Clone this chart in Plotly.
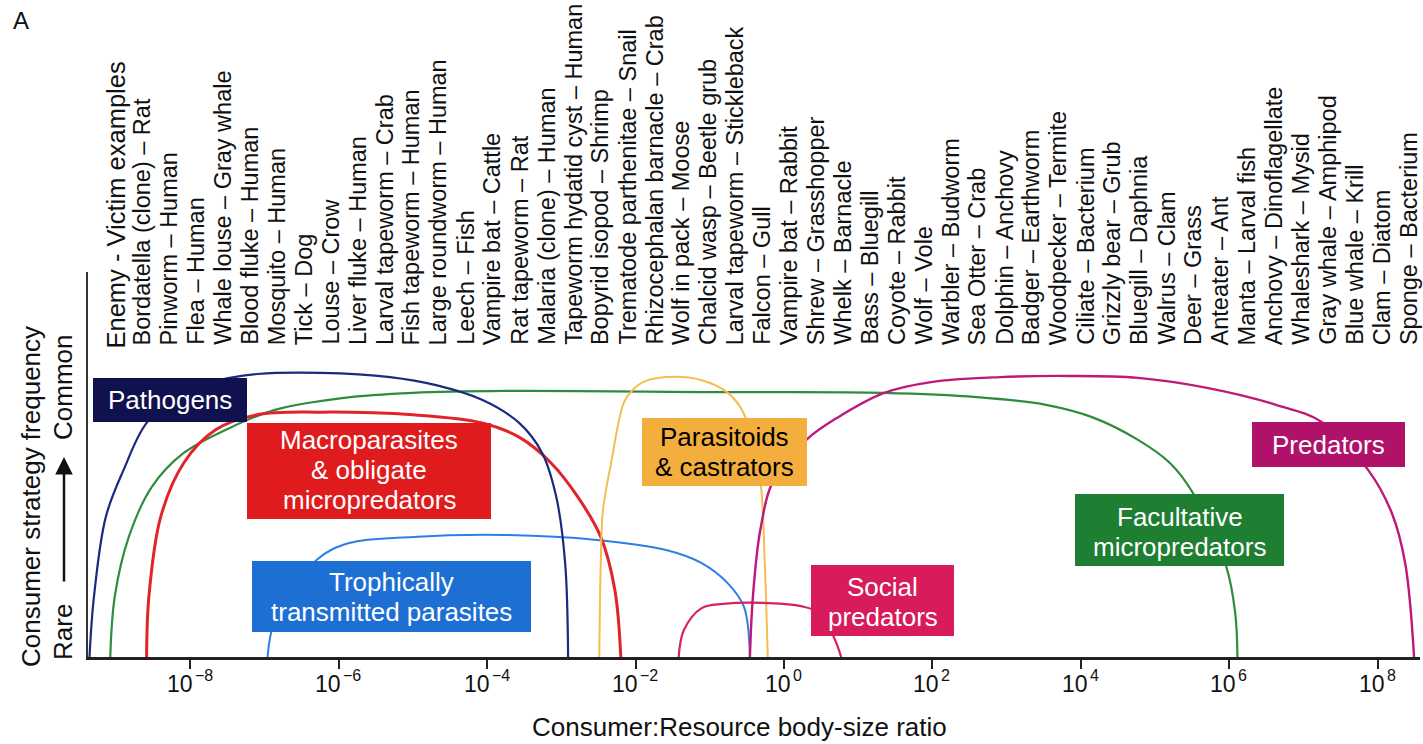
import plotly.graph_objects as go

# ---------------- data ----------------
enemy_victim_header = "Enemy - Victim examples"
enemy_victim_labels = [
    "Bordatella (clone) – Rat", "Pinworm – Human", "Flea – Human",
    "Whale louse – Gray whale", "Blood fluke – Human", "Mosquito – Human",
    "Tick – Dog", "Louse – Crow", "Liver fluke – Human",
    "Larval tapeworm – Crab", "Fish tapeworm – Human", "Large roundworm – Human",
    "Leech – Fish", "Vampire bat – Cattle", "Rat tapeworm – Rat",
    "Malaria (clone) – Human", "Tapeworm hydatid cyst – Human",
    "Bopyrid isopod – Shrimp", "Trematode parthenitae – Snail",
    "Rhizocephalan barnacle – Crab", "Wolf in pack – Moose",
    "Chalcid wasp – Beetle grub", "Larval tapeworm – Stickleback",
    "Falcon – Gull", "Vampire bat – Rabbit", "Shrew – Grasshopper",
    "Whelk – Barnacle", "Bass – Bluegill", "Coyote – Rabbit", "Wolf – Vole",
    "Warbler – Budworm", "Sea Otter – Crab", "Dolphin – Anchovy",
    "Badger – Earthworm", "Woodpecker – Termite", "Ciliate – Bacterium",
    "Grizzly bear – Grub", "Bluegill – Daphnia", "Walrus – Clam",
    "Deer – Grass", "Anteater – Ant", "Manta – Larval fish",
    "Anchovy – Dinoflagellate", "Whaleshark – Mysid", "Gray whale – Amphipod",
    "Blue whale – Krill", "Clam – Diatom", "Sponge – Bacterium",
]

# x ticks: powers of ten (base "10" + exponent label)
tick_exponents = [-8, -6, -4, -2, 0, 2, 4, 6, 8]
tick_base_label = "10"
tick_exponent_labels = ["−8", "−6", "−4", "−2", "0", "2", "4", "6", "8"]

# curves: log10(consumer:resource ratio) and relative frequency (0 = rare)
pathogens_log = [-9.36, -9.30, -9.14, -8.90, -8.59, -8.09, -7.47, -7.10, -6.24,
                 -5.31, -4.69, -4.07, -3.57, -3.26, -3.07, -2.95, -2.91]
pathogens_freq = [0.0, 0.156, 0.364, 0.486, 0.608, 0.694, 0.725, 0.735, 0.738,
                  0.727, 0.706, 0.668, 0.608, 0.530, 0.416, 0.244, 0.0]

facultative_log = [-9.08, -9.02, -8.83, -8.52, -8.09, -7.47, -6.86, -5.93, -5.00,
                   -3.76, -0.86, 1.35, 2.60, 3.53, 4.15, 4.77, 5.20, 5.51, 5.96,
                   6.08, 6.11]
facultative_freq = [0.0, 0.156, 0.312, 0.442, 0.530, 0.595, 0.642, 0.673, 0.686,
                    0.691, 0.688, 0.686, 0.675, 0.655, 0.623, 0.564, 0.504, 0.426,
                    0.234, 0.114, 0.0]

macro_log = [-8.59, -8.56, -8.40, -8.09, -7.66, -7.10, -6.24, -5.00, -4.07, -3.57,
             -3.14, -2.78, -2.47, -2.28, -2.20]
macro_freq = [0.0, 0.156, 0.364, 0.504, 0.590, 0.629, 0.636, 0.629, 0.608, 0.571,
              0.504, 0.416, 0.312, 0.174, 0.0]

trophic_log = [-6.96, -6.86, -6.30, -5.86, -5.00, -3.76, -2.52, -1.59, -1.11,
               -0.76, -0.54, -0.46]
trophic_freq = [0.0, 0.096, 0.252, 0.296, 0.312, 0.317, 0.304, 0.278, 0.244,
                0.192, 0.130, 0.0]

parasitoid_log = [-2.49, -2.47, -2.44, -2.33, -2.16, -2.04, -1.90, -1.59, -1.11,
                  -0.77, -0.59, -0.46, -0.32, -0.26, -0.22]
parasitoid_freq = [0.0, 0.244, 0.382, 0.504, 0.660, 0.694, 0.714, 0.727, 0.719,
                   0.688, 0.649, 0.590, 0.460, 0.244, 0.0]

social_log = [-1.42, -1.35, -1.11, -0.82, -0.20, 0.23, 0.48, 0.67, 0.77]
social_freq = [0.0, 0.070, 0.127, 0.138, 0.140, 0.132, 0.114, 0.052, 0.0]

predator_log = [-0.46, -0.42, -0.32, -0.14, 0.30, 0.73, 1.35, 1.98, 2.91, 3.84,
                4.77, 5.70, 6.63, 7.25, 7.87, 8.19, 8.37, 8.49]
predator_freq = [0.0, 0.156, 0.330, 0.460, 0.564, 0.623, 0.686, 0.714, 0.727,
                 0.730, 0.725, 0.699, 0.655, 0.610, 0.486, 0.374, 0.244, 0.0]

# ---------------- geometry / style ----------------
W, H = 1423, 744
ML, MR, MT, MB = 88, 3, 272, 87
PW = W - ML - MR
PH = H - MT - MB


def px(x):
    return (x - ML) / PW


def py(y):
    return (H - MB - y) / PH


FONT = "Liberation Sans, Arial, Helvetica, sans-serif"

fig = go.Figure()

curves = [
    (facultative_log, facultative_freq, "#2e8c3d", 2.2),
    (trophic_log, trophic_freq, "#2d7fe3", 2.0),
    (macro_log, macro_freq, "#e3232a", 3.0),
    (pathogens_log, pathogens_freq, "#1b2a7e", 2.2),
    (parasitoid_log, parasitoid_freq, "#f5bd4f", 2.0),
    (social_log, social_freq, "#d42460", 2.2),
    (predator_log, predator_freq, "#c0187a", 2.4),
]
for lg, fr, col, wd in curves:
    fig.add_trace(go.Scatter(
        x=[10 ** v for v in lg], y=fr, mode="lines",
        line=dict(color=col, width=wd, shape="spline", smoothing=1.0),
        hoverinfo="skip", showlegend=False))

shapes = []
annotations = []


def box(x0, y0, x1, y1, color, lines, text_color, line_ys, size=26):
    shapes.append(dict(type="rect", xref="paper", yref="paper",
                       x0=px(x0), x1=px(x1), y0=py(y1), y1=py(y0),
                       fillcolor=color, line=dict(width=0), layer="above"))
    for t, yy in zip(lines, line_ys):
        annotations.append(dict(
            text=t, xref="paper", yref="paper", x=px((x0 + x1) / 2), y=py(yy),
            xanchor="center", yanchor="middle", showarrow=False,
            font=dict(family=FONT, size=size, color=text_color)))


box(93, 378, 247, 422, "#10124f", ["Pathogens"], "white", [400])
box(247, 423, 491, 519, "#e01b1e",
    ["Macroparasites", "&amp; obligate", "micropredators"], "white", [440, 470, 500])
box(252, 561, 531, 632, "#1e6fd4",
    ["Trophically", "transmitted parasites"], "white", [582, 612])
box(642, 418, 807, 486, "#f3ae3d",
    ["Parasitoids", "&amp; castrators"], "black", [437, 467])
box(811, 565, 954, 636, "#d81b5a", ["Social", "predators"], "white", [587, 617])
box(1075, 494, 1284, 566, "#1e7e32",
    ["Facultative", "micropredators"], "white", [517, 547])
box(1252, 422, 1405, 467, "#b0126a", ["Predators"], "white", [445])

# column labels
all_labels = [enemy_victim_header] + enemy_victim_labels
for i, lab in enumerate(all_labels):
    annotations.append(dict(
        text=lab, xref="paper", yref="paper", x=px(115 + 26.95 * i),
        y=py(350 if i == 0 else 346), xanchor="center", yanchor="bottom",
        textangle=-90, showarrow=False, borderpad=0,
        font=dict(family=FONT, size=25.5 if i == 0 else 23.5, color="#111")))

# x tick labels (power-of-ten notation), placed on the x axis positions
for e, ex in zip(tick_exponents, tick_exponent_labels):
    shift = 3.5 if e < 0 else 8
    annotations.append(dict(
        text=tick_base_label, xref="x", yref="paper", x=e, y=py(684),
        xanchor="right", yanchor="middle", xshift=shift, showarrow=False,
        borderpad=0, font=dict(family=FONT, size=23, color="#111")))
    annotations.append(dict(
        text=ex, xref="x", yref="paper", x=e, y=py(675),
        xanchor="left", yanchor="middle", xshift=shift, showarrow=False,
        borderpad=0, font=dict(family=FONT, size=16, color="#111")))

# panel letter
annotations.append(dict(text="A", xref="paper", yref="paper", x=px(21), y=py(21),
                        xanchor="center", yanchor="middle", showarrow=False,
                        font=dict(family=FONT, size=24, color="#111")))

# y-axis titles
annotations.append(dict(text="Consumer strategy frequency", xref="paper", yref="paper",
                        x=px(31), y=py(497), xanchor="center", yanchor="middle",
                        textangle=-90, showarrow=False,
                        font=dict(family=FONT, size=26, color="#111")))
annotations.append(dict(text="Common", xref="paper", yref="paper",
                        x=px(63), y=py(388), xanchor="center", yanchor="middle",
                        textangle=-90, showarrow=False,
                        font=dict(family=FONT, size=26, color="#111")))
annotations.append(dict(text="Rare", xref="paper", yref="paper",
                        x=px(63), y=py(632), xanchor="center", yanchor="middle",
                        textangle=-90, showarrow=False,
                        font=dict(family=FONT, size=26, color="#111")))
annotations.append(dict(text="", xref="paper", yref="paper",
                        x=px(64), y=py(457), ax=0, ay=126,
                        showarrow=True, arrowhead=2, arrowsize=1.4,
                        arrowwidth=2.5, arrowcolor="#111"))

# x-axis title
annotations.append(dict(text="Consumer:Resource body-size ratio", xref="paper",
                        yref="paper", x=px(739), y=py(727), xanchor="center",
                        yanchor="middle", showarrow=False,
                        font=dict(family=FONT, size=26, color="#111")))

fig.update_layout(
    width=W, height=H, autosize=False,
    margin=dict(l=ML, r=MR, t=MT, b=MB, pad=0),
    paper_bgcolor="white", plot_bgcolor="white",
    font=dict(family=FONT, color="#111"),
    shapes=shapes, annotations=annotations, showlegend=False,
    xaxis=dict(type="log", range=[-9.38, 8.57],
               tickvals=[10 ** e for e in tick_exponents],
               showticklabels=False,
               ticks="outside", ticklen=9, tickwidth=2, tickcolor="#222",
               showline=True, linewidth=2.5, linecolor="#222",
               showgrid=False, zeroline=False),
    yaxis=dict(range=[0, 1], showline=True, linewidth=1.5, linecolor="#333",
               showticklabels=False, ticks="", showgrid=False, zeroline=False),
)

fig.write_html("out.html")
